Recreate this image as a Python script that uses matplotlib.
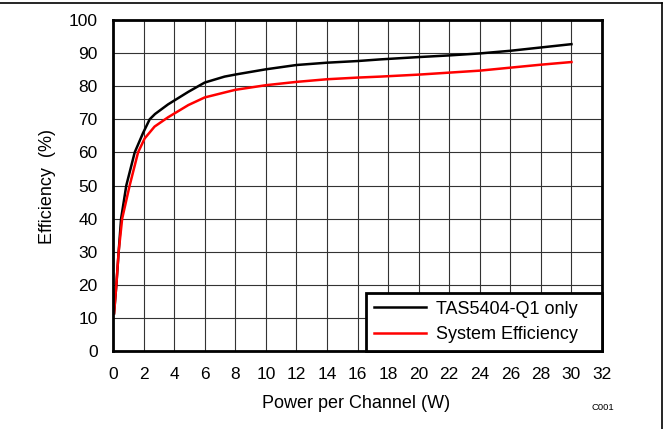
import matplotlib.pyplot as plt
from matplotlib.lines import Line2D

plt.rcParams['font.family'] = ['Liberation Sans', 'DejaVu Sans']

# TAS5404-Q1 only
dev_x = [0.07, 0.22, 0.37, 0.53, 0.87, 1.42, 1.96, 2.4, 2.75, 3.6, 4.93, 6.0, 7.3, 8.1,
         10, 12, 14, 16, 17.5, 20, 22, 24, 26, 28, 30]
dev_y = [11.4, 20, 30, 40, 50, 60, 65.8, 70, 71.6, 74.5, 78.3, 81.1, 82.9, 83.6,
         85.1, 86.4, 87.1, 87.6, 88.1, 88.8, 89.3, 89.9, 90.7, 91.7, 92.7]

# System efficiency
sys_x = [0.07, 0.22, 0.37, 0.6, 1.09, 1.64, 2.07, 2.72, 3.6, 4.93, 6.0, 7.3, 8.0,
         10, 12, 14, 16, 17.5, 20, 22, 24, 26, 28, 30]
sys_y = [11.4, 20, 30, 40, 50, 60, 64.2, 67.8, 70.6, 74.3, 76.6, 78.1, 78.9,
         80.3, 81.3, 82.1, 82.6, 82.9, 83.5, 84.1, 84.7, 85.6, 86.5, 87.3]

xticks = list(range(0, 33, 2))
yticks = list(range(0, 101, 10))

W, H = 669, 429
fig = plt.figure(figsize=(W / 100, H / 100), dpi=100)
ax = fig.add_axes([113 / W, 1 - 351 / H, (602 - 113) / W, (351 - 20) / H])

ax.plot(dev_x, dev_y, color='black', lw=1.8, label='TAS5404-Q1 only')
ax.plot(sys_x, sys_y, color='#ff0000', lw=1.8, label='System Efficiency')

ax.set_xlim(0, 32)
ax.set_ylim(0, 100)
ax.set_xticks(xticks)
ax.set_yticks(yticks)
ax.tick_params(length=0, labelsize=12.5)
ax.tick_params(axis='y', pad=11)
ax.tick_params(axis='x', pad=11.5)
ax.grid(True, color='#333333', lw=0.8)
ax.set_axisbelow(True)
for s in ax.spines.values():
    s.set_linewidth(2)
    s.set_color('black')

fig.text(356 / W, 1 - 404 / H, 'Power per Channel (W)', fontsize=13,
         ha='center', va='center')
fig.text(48 / W, 1 - 186 / H, 'Efficiency  (%)', fontsize=13,
         ha='center', va='center', rotation=90)

# legend box spans from x~366 px to the right edge of the plot
lx = (366 - 113) / (602 - 113)
leg = ax.legend(loc='lower left', bbox_to_anchor=(lx, 0, 1 - lx, 0.2),
                mode='expand', borderaxespad=0,
                fontsize=13, fancybox=False, framealpha=1, edgecolor='black',
                handlelength=2.9, handletextpad=0.5, borderpad=0.45,
                labelspacing=0.45)
leg.get_frame().set_linewidth(2)

fig.text(603 / W, 1 - 408 / H, 'C001', fontsize=6.8, ha='center', va='center')

# outer border (top and right visible)
fig.add_artist(Line2D([0, 662 / W], [1 - 3 / H, 1 - 3 / H], color='black', lw=1.2,
                      transform=fig.transFigure))
fig.add_artist(Line2D([662 / W, 662 / W], [0, 1 - 3 / H], color='black', lw=1.2,
                      transform=fig.transFigure))

fig.savefig('out.png', dpi=100)
